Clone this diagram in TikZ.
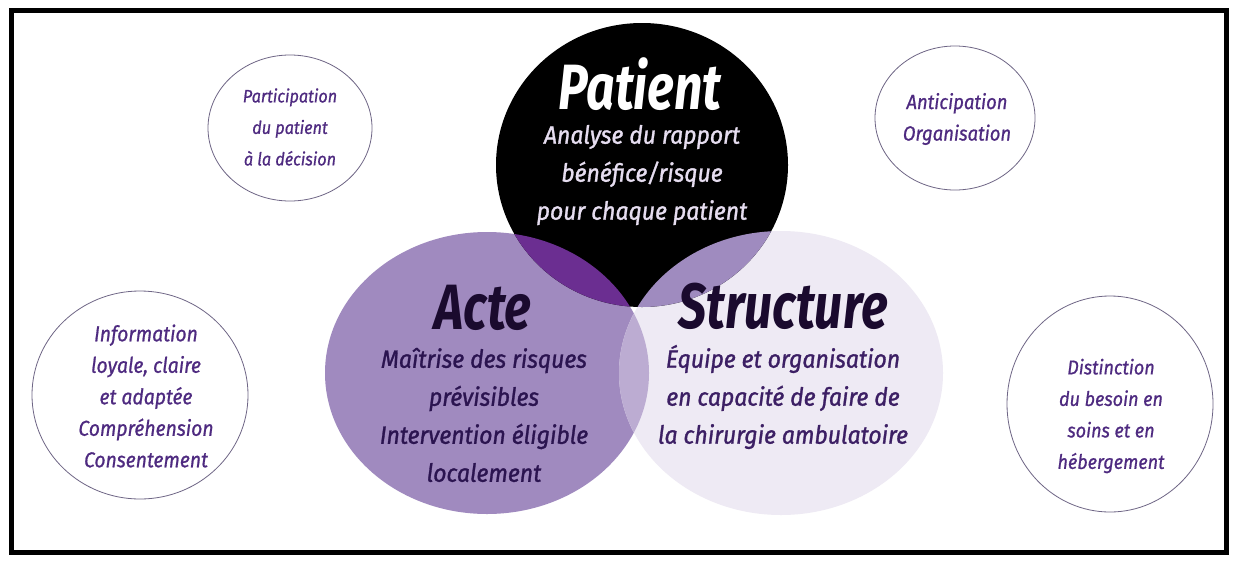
\documentclass[tikz,border=0pt]{standalone}
\usepackage{fontspec}
\setmainfont{Fira Sans}
\newfontfamily\titlef[FakeStretch=0.78]{Fira Sans}
\newfontfamily\bodyf[FakeStretch=0.92,FakeBold=1.2]{Fira Sans}
\newfontfamily\smallf[FakeStretch=0.9,FakeBold=0.8]{Fira Sans}
\definecolor{acteC}{HTML}{A08ABF}
\definecolor{structC}{HTML}{EEEAF4}
\definecolor{pacteC}{HTML}{6B2E91}
\definecolor{pstructC}{HTML}{9F8BBF}
\definecolor{asC}{HTML}{BCACD2}
\definecolor{smallT}{HTML}{4E2A80}
\definecolor{smallL}{HTML}{6E6585}
\definecolor{patT}{HTML}{E6DDF0}
\definecolor{acteT}{HTML}{2B1450}
\definecolor{structT}{HTML}{3C1F64}
\definecolor{titleT}{HTML}{1A0A2E}
\begin{document}
\begin{tikzpicture}[x=1pt,y=-1pt,
  titlestyle/.style={inner sep=0pt,font=\titlef\bfseries\itshape\fontsize{64}{64}\selectfont},
  bodystyle/.style={inner sep=0pt,align=center,font=\bodyf\itshape\fontsize{25}{38}\selectfont},
  smallstyle/.style={inner sep=0pt,align=center,text=smallT,font=\smallf\itshape\fontsize{#1}{31.5}\selectfont},
  smallstyle/.default=18,
  bubble/.style={draw=smallL,line width=0.8pt,fill=white}]
\useasboundingbox (0,0) rectangle (1236,560);
\fill[white] (0,0) rectangle (1236,560);
% frame
\draw[line width=5pt] (11.5,10) rectangle (1226.5,552);
% small ellipses
\draw[bubble] (290,128) ellipse [x radius=82, y radius=73];
\draw[bubble] (955,118) ellipse [x radius=80, y radius=72];
\draw[bubble] (140,395) ellipse [x radius=108, y radius=104];
\draw[bubble] (1110,404) ellipse [x radius=103, y radius=108];
% main circles
\fill[acteC] (487,373) ellipse [x radius=162, y radius=141];
\fill[structC] (781,373) ellipse [x radius=162, y radius=142];
\begin{scope}
  \clip (487,373) ellipse [x radius=162, y radius=141];
  \fill[asC] (781,373) ellipse [x radius=162, y radius=142];
\end{scope}
\fill[black] (642,165) ellipse [x radius=146, y radius=142];
\begin{scope}
  \clip (642,165) ellipse [x radius=146, y radius=142];
  \fill[pacteC] (487,373) ellipse [x radius=162, y radius=141];
  \fill[pstructC] (781,373) ellipse [x radius=162, y radius=142];
  \clip (487,373) ellipse [x radius=162, y radius=141];
  \fill[black] (781,373) ellipse [x radius=162, y radius=142];
\end{scope}
% texts
\node[titlestyle,text=white] (pt) at (640,84) {Patient};
\node[bodystyle,text=patT] (pb) at (642,175) {Analyse du rapport\\bénéfice/risque\\pour chaque patient};
\node[titlestyle,text=titleT] (at) at (483,308) {Acte};
\node[bodystyle,text=acteT] (ab) at (484,415) {Maîtrise des risques\\prévisibles\\Intervention éligible\\localement};
\node[titlestyle,text=titleT] (st) at (783,306) {Structure};
\node[bodystyle,text=structT] (sb) at (783,397) {Équipe et organisation\\en capacité de faire de\\la chirurgie ambulatoire};
\node[smallstyle=18] (s1) at (290,127) {Participation\\du patient\\à la décision};
\node[smallstyle=20.5] (s2) at (957,119) {Anticipation\\Organisation};
\node[smallstyle=21.5] (s3) at (146,396) {Information\\loyale, claire\\et adaptée\\Compréhension\\Consentement};
\node[smallstyle=20] (s4) at (1111,416) {Distinction\\du besoin en\\soins et en\\hébergement};
\end{tikzpicture}
\end{document}
